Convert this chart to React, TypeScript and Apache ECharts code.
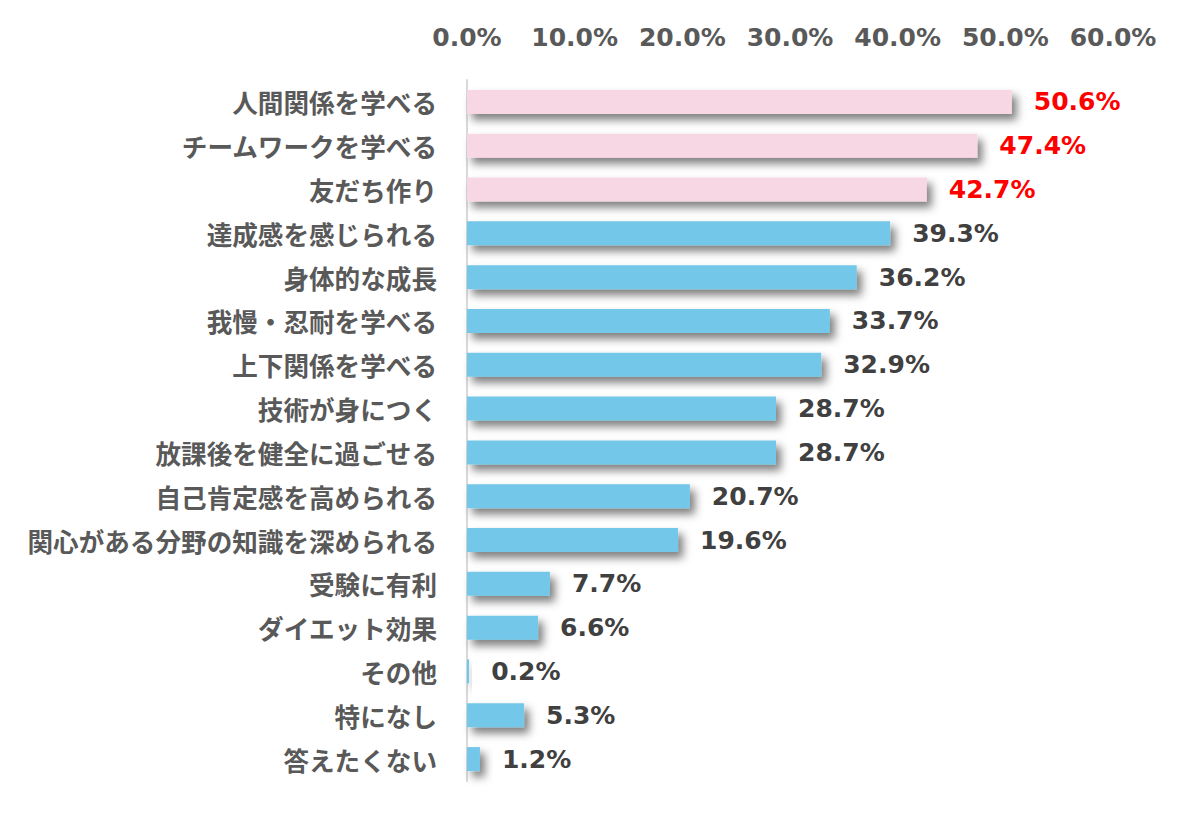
import React, { useEffect, useRef } from "react";
import * as echarts from "echarts";

const categories = [
  "人間関係を学べる",
  "チームワークを学べる",
  "友だち作り",
  "達成感を感じられる",
  "身体的な成長",
  "我慢・忍耐を学べる",
  "上下関係を学べる",
  "技術が身につく",
  "放課後を健全に過ごせる",
  "自己肯定感を高められる",
  "関心がある分野の知識を深められる",
  "受験に有利",
  "ダイエット効果",
  "その他",
  "特になし",
  "答えたくない",
];
const values = [50.6, 47.4, 42.7, 39.3, 36.2, 33.7, 32.9, 28.7, 28.7, 20.7, 19.6, 7.7, 6.6, 0.2, 5.3, 1.2];
const highlightCount = 3;

export default function App() {
  const ref = useRef<HTMLDivElement>(null);
  useEffect(() => {
    if (!ref.current) return;
    const chart = echarts.init(ref.current, null, { renderer: "svg" });
    const data = values.map((v, i) => {
      const hi = i < highlightCount;
      return {
        value: v,
        itemStyle: {
          color: hi ? "#f8d7e4" : "#73c7e8",
          shadowColor: "rgba(0,0,0,0.5)",
          shadowBlur: 8,
          shadowOffsetX: 5,
          shadowOffsetY: 6,
        },
        label: { color: hi ? "#ff0000" : "#404040" },
      };
    });
    chart.setOption({
      animation: false,
      backgroundColor: "#ffffff",
      grid: { left: 467, right: 87, top: 80, bottom: 42, containLabel: false },
      xAxis: {
        type: "value",
        position: "top",
        min: 0,
        max: 60,
        interval: 10,
        axisLine: { show: false },
        axisTick: { show: false },
        splitLine: { show: false },
        axisLabel: {
          margin: 30,
          formatter: (v: number) => v.toFixed(1) + "%",
          color: "#595959",
          fontFamily: "DejaVu Sans",
          fontWeight: "bold",
          fontSize: 25,
        },
      },
      yAxis: {
        type: "category",
        inverse: true,
        data: categories,
        axisLine: { show: true, lineStyle: { color: "#d9d9d9", width: 2 } },
        axisTick: { show: false },
        axisLabel: {
          margin: 30,
          color: "#595959",
          fontFamily: "Noto Sans CJK JP",
          fontWeight: "bold",
          fontSize: 25.6,
        },
      },
      series: [
        {
          type: "bar",
          data,
          barWidth: 24,
          label: {
            show: true,
            position: "right",
            distance: 22,
            formatter: (p: any) => Number(p.value).toFixed(1) + "%",
            fontFamily: "DejaVu Sans",
            fontWeight: "bold",
            fontSize: 25,
          },
        },
      ],
    });
    return () => chart.dispose();
  }, []);
  return <div ref={ref} style={{ width: 1200, height: 823, position: "absolute", left: 0, top: 0 }} />;
}
